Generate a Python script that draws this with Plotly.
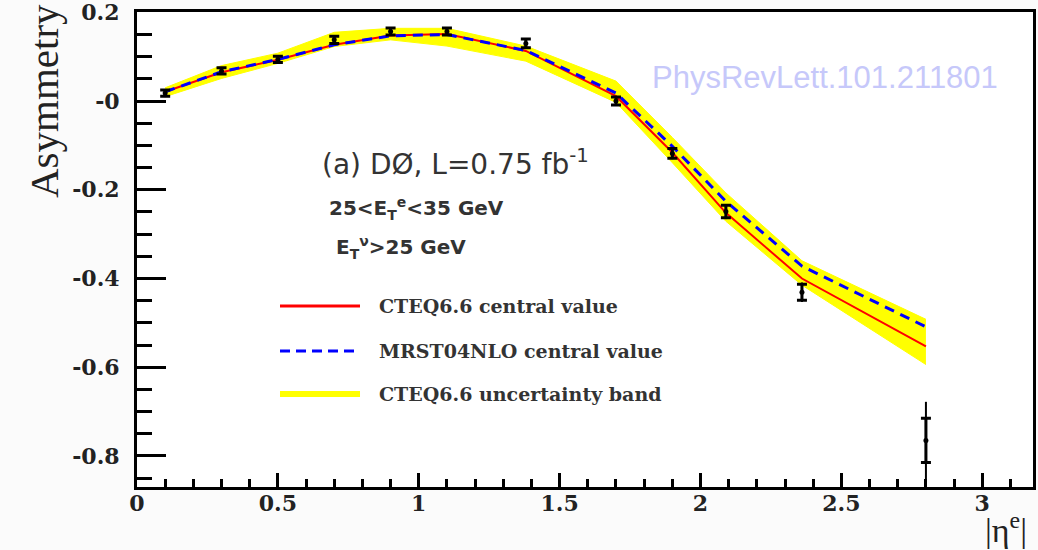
import plotly.graph_objects as go

# ---- data ----
eta_data = [0.1, 0.3, 0.5, 0.7, 0.9, 1.1, 1.38, 1.7, 1.9, 2.09, 2.36, 2.8]
asym_data = [0.018, 0.068, 0.094, 0.138, 0.157, 0.157, 0.130, 0.000, -0.118, -0.249, -0.431, -0.765]
err_stat = [0.007, 0.007, 0.007, 0.008, 0.008, 0.008, 0.010, 0.009, 0.011, 0.014, 0.018, 0.050]
err_tot = [0.009, 0.009, 0.009, 0.010, 0.010, 0.010, 0.012, 0.011, 0.013, 0.017, 0.022, 0.087]

eta_theory = [0.1, 0.3, 0.5, 0.7, 0.9, 1.1, 1.38, 1.7, 1.9, 2.09, 2.36, 2.8]
cteq_central = [0.021, 0.065, 0.093, 0.127, 0.148, 0.151, 0.113, 0.011, -0.116, -0.252, -0.400, -0.553]
mrst_central = [0.021, 0.066, 0.094, 0.127, 0.147, 0.150, 0.114, 0.018, -0.102, -0.226, -0.372, -0.509]
cteq_upper = [0.030, 0.080, 0.108, 0.155, 0.164, 0.164, 0.124, 0.045, -0.082, -0.207, -0.360, -0.492]
cteq_lower = [0.010, 0.051, 0.085, 0.123, 0.138, 0.124, 0.090, -0.003, -0.139, -0.271, -0.415, -0.594]

y_ticks = [0.2, 0.0, -0.2, -0.4, -0.6, -0.8]
y_ticktext = ["0.2", "-0", "-0.2", "-0.4", "-0.6", "-0.8"]
x_ticks = [0, 0.5, 1, 1.5, 2, 2.5, 3]
x_ticktext = ["0", "0.5", "1", "1.5", "2", "2.5", "3"]

legend_labels = ["CTEQ6.6 central value", "MRST04NLO central value", "CTEQ6.6 uncertainty band"]

# ---- figure ----
W, H = 1038, 550
L, R, T, B = 137, 5, 12, 63
pw, ph = W - L - R, H - T - B


def px(xp):
    return (xp - L) / pw


def py(yp):
    return (H - B - yp) / ph


fig = go.Figure()

fig.add_trace(go.Scatter(x=eta_theory, y=cteq_lower, mode="lines",
                         line=dict(color="#ffff00", width=1), showlegend=False,
                         hoverinfo="skip"))
fig.add_trace(go.Scatter(x=eta_theory, y=cteq_upper, mode="lines", fill="tonexty",
                         fillcolor="#ffff00", line=dict(color="#ffff00", width=1),
                         name=legend_labels[2], showlegend=False))
fig.add_trace(go.Scatter(x=eta_theory, y=cteq_central, mode="lines",
                         line=dict(color="#ff0000", width=2),
                         name=legend_labels[0], showlegend=False))
fig.add_trace(go.Scatter(x=eta_theory, y=mrst_central, mode="lines",
                         line=dict(color="#0000ff", width=3, dash="10px,7px"),
                         name=legend_labels[1], showlegend=False))
# total error (outer, no caps)
fig.add_trace(go.Scatter(x=eta_data, y=asym_data, mode="markers",
                         marker=dict(color="black", size=1),
                         error_y=dict(type="data", array=err_tot, visible=True,
                                      color="black", thickness=2, width=0),
                         showlegend=False))
# statistical error (inner, with caps)
fig.add_trace(go.Scatter(x=eta_data, y=asym_data, mode="markers",
                         marker=dict(color="black", size=5),
                         error_y=dict(type="data", array=err_stat, visible=True,
                                      color="black", thickness=3, width=5),
                         name="DØ data", showlegend=False))

axis_font = dict(family="DejaVu Serif", size=22, color="#222222", weight="bold")

fig.update_xaxes(range=[0, 3.18], tickvals=x_ticks, ticktext=x_ticktext,
                 ticks="inside", ticklen=14, tickwidth=3, tickcolor="black",
                 minor=dict(dtick=0.1, tick0=0, ticks="inside", ticklen=8,
                            tickwidth=3, tickcolor="black"),
                 showline=True, linewidth=3, linecolor="black", mirror=True,
                 showgrid=False, zeroline=False, tickfont=axis_font,
                 ticklabelstandoff=-5, automargin=False)
fig.update_yaxes(range=[-0.87, 0.2008], tickvals=y_ticks, ticktext=y_ticktext,
                 ticks="inside", ticklen=29, tickwidth=3, tickcolor="black",
                 minor=dict(dtick=0.05, tick0=0, ticks="inside", ticklen=15,
                            tickwidth=3, tickcolor="black"),
                 showline=True, linewidth=3, linecolor="black", mirror=True,
                 showgrid=False, zeroline=False, tickfont=axis_font,
                 ticklabelstandoff=10, ticklabeloverflow="allow", automargin=False)

annotations = [
    dict(text="Asymmetry", x=px(44), y=py(101), textangle=-90,
         font=dict(family="Liberation Serif", size=41, color="#222222")),
    dict(text="|η<sup>e</sup>|", x=px(1006), y=py(528),
         font=dict(family="Liberation Serif", size=34, color="#222222")),
    dict(text="PhysRevLett.101.211801", x=px(650), y=py(78), xanchor="left",
         font=dict(family="Liberation Sans", size=31, color="#c6c8fa")),
    dict(text="(a) DØ, L=0.75 fb<sup>-1</sup>", x=px(320), y=py(163), xanchor="left",
         font=dict(family="DejaVu Sans", size=28, color="#333333")),
    dict(text="25&lt;E<sub>T</sub><sup>e</sup>&lt;35 GeV", x=px(327), y=py(208), xanchor="left",
         font=dict(family="DejaVu Sans", size=20, color="#333333", weight="bold")),
    dict(text="E<sub>T</sub><sup>ν</sup>&gt;25 GeV", x=px(334), y=py(248), xanchor="left",
         font=dict(family="DejaVu Sans", size=20, color="#333333", weight="bold")),
]
legend_y = [306, 351, 394]
for lab, yy in zip(legend_labels, legend_y):
    annotations.append(dict(text=lab, x=px(377), y=py(yy), xanchor="left",
                            font=dict(family="DejaVu Serif", size=19,
                                      color="#333333", weight="bold")))
for a in annotations:
    a.setdefault("xref", "paper")
    a.setdefault("yref", "paper")
    a.setdefault("showarrow", False)
    a.setdefault("yanchor", "middle")
    a.setdefault("xanchor", "center")

shapes = [
    dict(type="line", x0=px(280), x1=px(360), y0=py(306), y1=py(306),
         line=dict(color="#ff0000", width=3)),
    dict(type="line", x0=px(280), x1=px(360), y0=py(351), y1=py(351),
         line=dict(color="#0000ff", width=3, dash="10px,6px")),
    dict(type="line", x0=px(280), x1=px(360), y0=py(394), y1=py(394),
         line=dict(color="#ffff00", width=6)),
]
for s in shapes:
    s["xref"] = "paper"
    s["yref"] = "paper"

fig.update_layout(width=W, height=H, margin=dict(l=L, r=R, t=T, b=B),
                  paper_bgcolor="#fbfbfb", plot_bgcolor="#ffffff",
                  showlegend=False, annotations=annotations, shapes=shapes)

fig.write_html("out.html")
